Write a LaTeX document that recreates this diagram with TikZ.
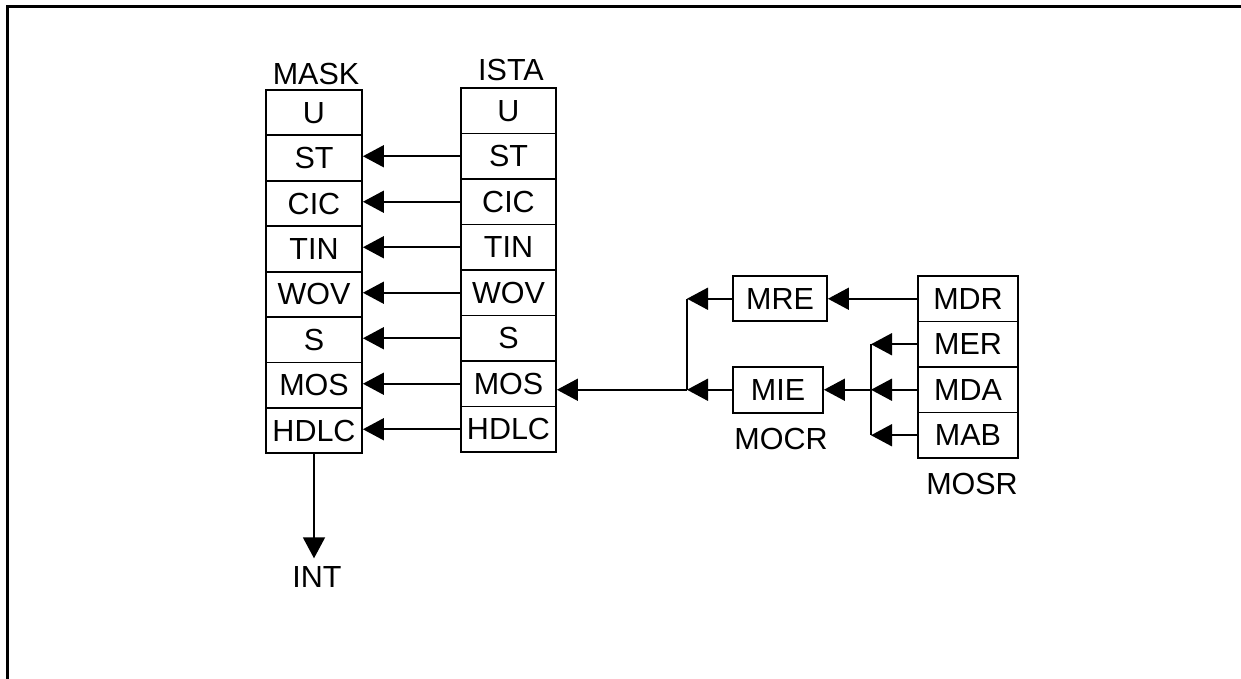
\documentclass[tikz,border=0pt]{standalone}
\usepackage{fontspec}
\setmainfont{Liberation Sans}
\usetikzlibrary{arrows.meta}
\begin{document}
\begin{tikzpicture}[x=1pt,y=-1pt,
  txt/.style={font=\fontsize{30.5}{36}\selectfont, inner sep=0pt},
  cell/.style={txt, draw, line width=1.8pt, minimum height=45.5pt},
  lbl/.style={txt},
  conn/.style={line width=1.8pt},
  arr/.style={conn, -{Triangle[length=21pt,width=22pt]}}]
\useasboundingbox (0,0) rectangle (1241,679);
\draw[line width=3pt] (1241,7) -- (7,7) -- (7,679);
% MASK column
\foreach \t [count=\i] in {U,ST,CIC,TIN,WOV,S,MOS,HDLC}
  \node[cell, minimum width=96pt, minimum height=45.4pt] (mask\i) at (314,{90+45.4*(\i-0.5)}) {\t};
% ISTA column
\foreach \t [count=\i] in {U,ST,CIC,TIN,WOV,S,MOS,HDLC}
  \node[cell, minimum width=95pt] (ista\i) at (508.5,{88+45.5*(\i-0.5)}) {\t};
% MOSR column
\foreach \t [count=\i] in {MDR,MER,MDA,MAB}
  \node[cell, minimum width=100pt] (mosr\i) at (968,{276+45.5*(\i-0.5)}) {\t};
\node[cell, minimum width=94pt, minimum height=45pt] (mre) at (780,298.75) {MRE};
\node[cell, minimum width=90pt, minimum height=46pt] (mie) at (778,389.75) {MIE};
% labels
\node[lbl] (lmask) at (316,74) {MASK};
\node[lbl] (lista) at (511,70) {ISTA};
\node[lbl] (lmocr) at (781,439) {MOCR};
\node[lbl] (lmosr) at (972,484) {MOSR};
\node[lbl] (int) at (317,577) {INT};
% ISTA -> MASK
\foreach \i in {2,...,8}
  \draw[arr] (ista\i.west) -- (ista\i.west -| mask\i.east);
% left branch
\coordinate (bt) at (687,298.75);
\coordinate (bl) at (687,389.75);
\draw[conn] (bt) -- (bl);
\draw[arr] (mre.west) -- (bt);
\draw[arr] (mie.west) -- (bl);
\draw[arr] (bl) -- (bl -| ista7.east);
% right branch
\coordinate (rt) at (871,344.25);
\coordinate (rm) at (871,389.75);
\coordinate (rb) at (871,435.25);
\draw[conn] (rt) -- (rb);
\draw[arr] (mosr1.west) -- (mre.east);
\draw[arr] (mosr2.west) -- (rt);
\draw[arr] (mosr3.west) -- (rm);
\draw[arr] (mosr4.west) -- (rb);
\draw[arr] (rm) -- (mie.east);
% INT
\draw[arr, shorten >=8pt] (mask8.south) -- (mask8.south |- int.north);
\end{tikzpicture}
\end{document}
